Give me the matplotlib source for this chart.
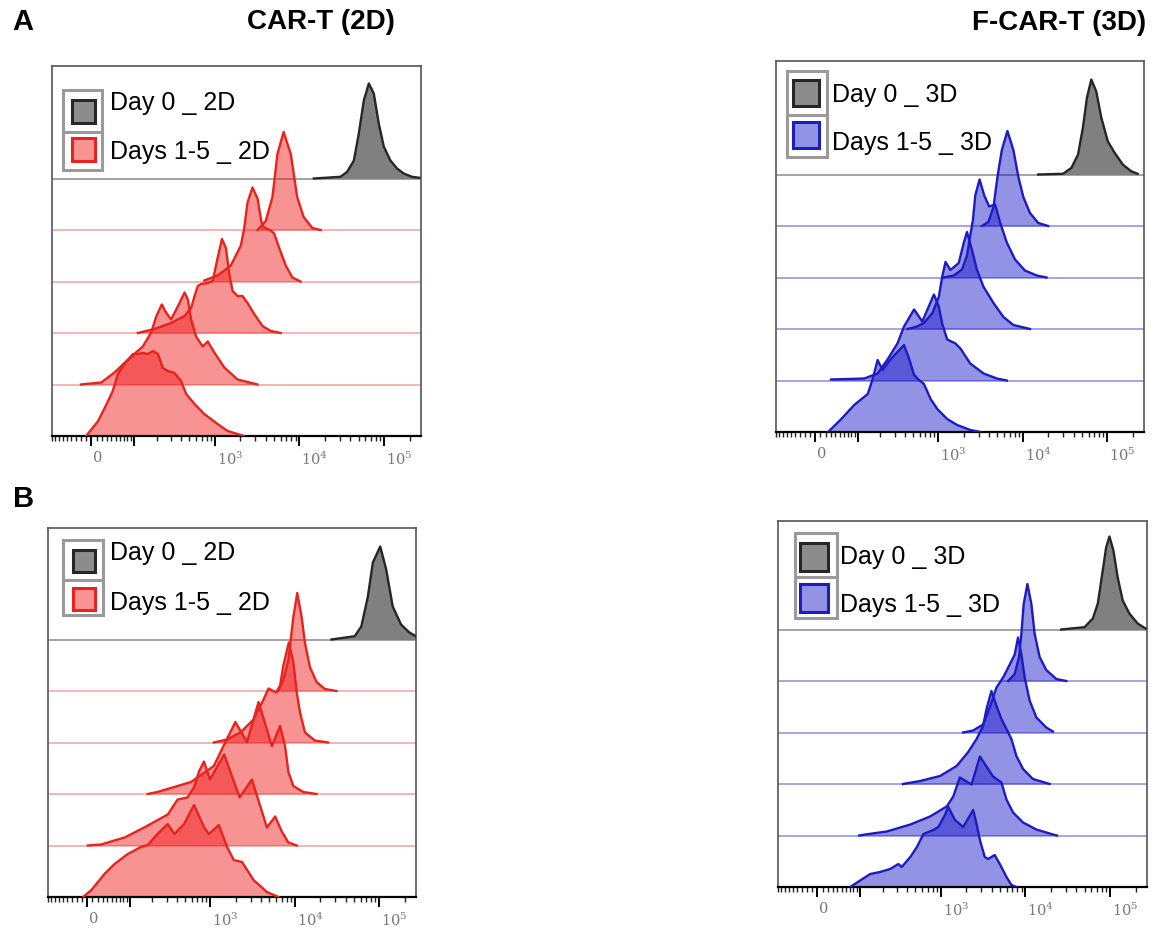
import numpy as np
import matplotlib
matplotlib.use("Agg")
import matplotlib.pyplot as plt
from matplotlib.patches import Rectangle
from matplotlib.transforms import ScaledTranslation

plt.rcParams["font.family"] = ["Liberation Sans", "DejaVu Sans"]
plt.rcParams["mathtext.fontset"] = "dejavuserif"

# histogram outlines: (fluorescence, height)
# tracks t1..t5 run from top to bottom under the Day 0 histogram
A2D_day0 = [(14800, 0), (30500, 1.7), (36600, 6.7), (43900, 18), (50200, 45), (57500, 78), (65900, 95),
            (75400, 85), (86300, 55), (98900, 32), (118400, 18), (141900, 10), (170000, 5), (212800, 1.7), (260000, 0.7)]
A2D_t1 = [(3200, 0), (4000, 9), (4800, 33), (5500, 76), (6500, 98), (7900, 76), (9400, 33), (11200, 13),
          (14200, 2), (17800, 0)]
A2D_t2 = [(750, 1), (1080, 6), (1550, 16), (2035, 36), (2225, 53), (2440, 79), (2790, 94), (3200, 83), (3570, 59),
          (3830, 54), (4590, 51), (5025, 48), (5740, 34), (6890, 16), (8260, 4), (10300, 0)]
A2D_t3 = [(114, 0), (188, 4), (301, 10), (438, 17), (524, 25), (586, 39), (630, 47), (689, 49), (826, 50), (945, 52),
          (1080, 75), (1217, 94), (1355, 85), (1484, 59), (1626, 42), (1862, 37), (2132, 37), (2440, 30), (2923, 19),
          (3665, 7), (4590, 2), (6000, 0)]
A2D_t4 = [(-20, 0), (19, 2), (47, 12), (82, 25), (133, 38), (171, 52), (198, 68), (232, 80), (262, 72), (301, 65),
          (363, 78), (438, 92), (480, 85), (524, 65), (600, 48), (721, 38), (826, 43), (988, 32), (1298, 17),
          (1862, 5), (3200, 0)]
A2D_t5 = [(-10, 0), (13, 15), (33, 35), (43, 45), (55, 62), (72, 72), (97, 82), (114, 82), (133, 83), (155, 82),
          (180, 85), (208, 82), (239, 68), (275, 65), (331, 63), (398, 55), (458, 42), (575, 32), (751, 22),
          (1080, 12), (1420, 5), (1862, 2), (2200, 0)]

A3D_day0 = [(15240, 0), (30000, 0.7), (37700, 6.7), (45100, 20), (51500, 47), (57500, 77), (64700, 95),
            (74100, 83), (84900, 57), (101600, 33), (121600, 22), (152400, 10), (191400, 3.3), (229000, 0.7)]
A3D_t1 = [(3290, 0), (3920, 4), (4500, 19), (5015, 49), (5650, 76), (6580, 95), (7740, 76), (8870, 49),
          (10150, 29), (12160, 13), (15240, 3), (19950, 0)]
A3D_t2 = [(1160, 0), (1520, 2), (1910, 8), (2185, 22), (2390, 42), (2575, 58), (2740, 82), (3080, 98), (3500, 82),
          (4000, 71), (4710, 73), (5390, 55), (6470, 35), (8100, 18), (10600, 7), (14600, 2), (19100, 0)]
A3D_t3 = [(430, 0), (540, 2), (675, 6), (850, 16), (1013, 32), (1110, 52), (1217, 67), (1393, 59), (1745, 66),
          (2000, 86), (2185, 97), (2505, 79), (2870, 59), (3440, 42), (4500, 26), (5900, 12), (7740, 4), (12160, 0)]
A3D_t4 = [(31, 1), (124, 2), (185, 7), (246, 21), (325, 37), (390, 54), (515, 71), (645, 59), (887, 86),
          (1013, 74), (1110, 57), (1274, 41), (1596, 37), (1827, 32), (2390, 17), (3440, 7), (4935, 2), (6470, 0)]
A3D_t5 = [(25, 0), (54, 13), (89, 27), (138, 38), (160, 53), (185, 72), (213, 62), (270, 73), (325, 80), (390, 87),
          (450, 73), (515, 57), (590, 52), (675, 48), (810, 33), (972, 23), (1274, 13), (1672, 7), (2390, 2), (3140, 0)]

B2D_day0 = [(27200, 0), (51200, 3.3), (61300, 13), (73300, 43), (84000, 77), (102600, 93), (120800, 70),
            (144200, 33), (181000, 15), (227000, 7), (270000, 3.3)]
B2D_t1 = [(6400, 0), (7330, 11), (8400, 31), (8950, 51), (9620, 74), (10700, 98), (12050, 74), (13200, 48),
          (15100, 24), (18100, 9), (22700, 2), (31100, 0)]
B2D_t2 = [(1100, 0), (1580, 3), (2270, 10), (3250, 23), (4270, 43), (4890, 54), (6020, 50), (6700, 57), (7330, 77),
          (8500, 100), (9620, 80), (10550, 50), (11540, 30), (13200, 10), (17300, 2), (24800, 0)]
B2D_t3 = [(175, 0), (232, 2), (590, 12), (1100, 28), (1510, 52), (1730, 62), (1980, 72), (2720, 52), (3725, 92),
          (5360, 48), (6700, 68), (7670, 48), (8400, 22), (9620, 8), (12600, 2), (18100, 0)]
B2D_t4 = [(1, 0), (27, 1), (84, 8), (158, 18), (310, 31), (408, 46), (535, 48), (640, 58), (734, 74), (840, 84),
          (988, 66), (1460, 91), (2225, 48), (3110, 66), (4680, 18), (5860, 29), (7010, 14), (8400, 3), (10550, 0)]
B2D_t5 = [(-8, 0), (8, 7), (34, 23), (57, 33), (94, 43), (143, 50), (175, 52), (232, 63), (310, 73), (372, 63),
          (488, 73), (640, 92), (840, 70), (962, 63), (1260, 72), (1580, 50), (1895, 37), (2380, 35), (3250, 17),
          (4680, 5), (6400, 0)]

B3D_day0 = [(26400, 0), (49800, 2.3), (62400, 11), (71500, 26), (81700, 59), (89600, 82), (98000, 93),
            (109200, 79), (122700, 52), (140600, 29), (168300, 16), (211000, 6), (262000, 1)]
B3D_t1 = [(6240, 0), (7470, 7), (8400, 24), (8950, 47), (9530, 77), (10550, 97), (11750, 77), (12850, 47),
          (14700, 24), (17600, 11), (23100, 2), (30300, 0)]
B3D_t2 = [(1840, 0), (2415, 2), (3160, 8), (3790, 25), (4550, 45), (5450, 55), (6530, 68), (7470, 78), (8170, 95),
          (8950, 78), (9800, 55), (11200, 32), (13460, 15), (17600, 5), (21100, 1)]
B3D_t3 = [(355, 0), (415, 1), (570, 3), (980, 8), (1540, 18), (2110, 32), (2650, 45), (3160, 58), (3470, 75),
          (3970, 93), (4550, 78), (5210, 65), (5970, 55), (6830, 45), (7820, 28), (9360, 15), (12270, 5), (19300, 0)]
B3D_t4 = [(98, 0), (119, 1), (226, 4), (435, 11), (746, 19), (1175, 29), (1405, 39), (1680, 58), (2310, 51),
          (2900, 79), (3470, 69), (4150, 59), (5210, 53), (5970, 36), (7140, 23), (9360, 13), (13460, 6),
          (21100, 1), (23500, 0)]
B3D_t5 = [(71, 0), (139, 13), (186, 15), (248, 18), (313, 23), (343, 20), (435, 30), (521, 40), (624, 53), (817, 57),
          (936, 60), (1121, 72), (1228, 80), (1472, 67), (1840, 60), (2415, 77), (2650, 63), (2900, 47), (3310, 30),
          (3620, 28), (4340, 32), (4980, 23), (5970, 10), (6830, 2), (7820, 0)]

tick_vals = [0, 1000, 10000, 100000]
tick_text = ["0", "$10^3$", "$10^4$", "$10^5$"]

W, H = 1154, 932
STEP = 51.5
XMIN, XMAX = -85, 272000

RED = dict(fill="#f01010", line="#e8231e", base="#f4a0a0")
BLUE = dict(fill="#1010c8", line="#1c1cc0", base="#8c8ce4")


def fwd(x):
    return np.arcsinh(np.asarray(x, dtype=float) / 70.0) / np.log(10)


def inv(u):
    return 70.0 * np.sinh(np.asarray(u, dtype=float) * np.log(10))


def draw_curve(ax, curve, offset, fill, line, alpha):
    xs = [p[0] for p in curve]
    ys = [offset + p[1] for p in curve]
    ax.fill_between(xs, offset, ys, color=fill, alpha=alpha, lw=0, zorder=2)
    ax.plot(xs, ys, color=line, lw=1.7, zorder=3, solid_joinstyle="round")


def panel(box, day0, tracks, col, leg, names):
    l, t, r, b = box
    ax = fig.add_axes([l / W, 1 - b / H, (r - l) / W, (b - t) / H])
    ax.set_xscale("function", functions=(fwd, inv))
    ax.set_xlim(XMIN, XMAX)
    ax.set_ylim(0, b - t)
    aw, ah = r - l, b - t

    ax.axhline(5 * STEP, color="#8a8a8a", lw=1.1, zorder=1)
    for k in range(1, 5):
        ax.axhline(k * STEP, color=col["base"], lw=1.1, zorder=1)
    draw_curve(ax, day0, 5 * STEP, "#808080", "#262626", 1.0)
    for k, tr in enumerate(tracks):
        draw_curve(ax, tr, (4 - k) * STEP, col["fill"], col["line"], 0.45)

    # axis styling
    for s in ax.spines.values():
        s.set_color("#555555")
        s.set_linewidth(1.2)
    ax.spines["bottom"].set_color("black")
    ax.spines["bottom"].set_linewidth(1.6)
    ax.set_yticks([])
    ax.set_xticks([0, 100, 1000, 10000, 100000])
    ax.set_xticklabels([])
    minor = [-v for v in range(10, 100, 10)] + [m * 10 ** e for e in (1, 2, 3, 4) for m in range(2, 10)] + [10, 200000]
    ax.set_xticks(minor, minor=True)
    ax.tick_params(axis="x", which="major", direction="out", length=7, width=1.4, color="black")
    ax.tick_params(axis="x", which="minor", direction="out", length=3.5, width=1.0, color="#222222")
    shift = ScaledTranslation(0.02, 0, fig.dpi_scale_trans)
    for v, s in zip(tick_vals, tick_text):
        ax.text(v, -15 / ah, s, transform=ax.get_xaxis_transform() + shift, ha="left", va="top",
                fontsize=10.5, color="#777777", family="DejaVu Serif")

    # FlowJo style legend
    cl, cr, ct, cb, dv, ix, isz, iy1, iy2, tx, ty1, ty2 = leg
    ax.add_patch(Rectangle((cl / aw, 1 - cb / ah), (cr - cl) / aw, (cb - ct) / ah, transform=ax.transAxes,
                           facecolor="white", edgecolor="#9a9a9a", lw=2.2, zorder=5))
    ax.plot([cl / aw, cr / aw], [1 - dv / ah, 1 - dv / ah], transform=ax.transAxes, color="#9a9a9a", lw=2.2, zorder=6)
    for iy, fc, ec, a in [(iy1, "#808080", "#262626", 0.9), (iy2, col["fill"], col["line"], 0.45)]:
        ax.add_patch(Rectangle((ix / aw, 1 - (iy + isz) / ah), isz / aw, isz / ah, transform=ax.transAxes,
                               facecolor=fc, alpha=a, edgecolor="none", zorder=6))
        ax.add_patch(Rectangle((ix / aw, 1 - (iy + isz) / ah), isz / aw, isz / ah, transform=ax.transAxes,
                               facecolor="none", edgecolor=ec, lw=2.2, zorder=7))
    ax.text(tx / aw, 1 - ty1 / ah, names[0], transform=ax.transAxes, fontsize=18, va="center", ha="left", zorder=8)
    ax.text(tx / aw, 1 - ty2 / ah, names[1], transform=ax.transAxes, fontsize=18, va="center", ha="left", zorder=8)
    return ax


fig = plt.figure(figsize=(W / 100, H / 100), dpi=100)

panel((52, 66, 421, 436), A2D_day0, [A2D_t1, A2D_t2, A2D_t3, A2D_t4, A2D_t5], RED,
      (11, 50, 24, 104, 66, 20, 23, 34, 72, 58, 37, 86), ["Day 0 _ 2D", "Days 1-5 _ 2D"])
panel((776, 61, 1144, 432), A3D_day0, [A3D_t1, A3D_t2, A3D_t3, A3D_t4, A3D_t5], BLUE,
      (11, 51, 10, 96, 54, 17, 26, 19, 61, 56, 34, 82), ["Day 0 _ 3D", "Days 1-5 _ 3D"])
panel((48, 528, 416, 897), B2D_day0, [B2D_t1, B2D_t2, B2D_t3, B2D_t4, B2D_t5], RED,
      (15, 55, 12, 87, 52, 25, 22, 22, 60, 62, 25, 75), ["Day 0 _ 2D", "Days 1-5 _ 2D"])
panel((778, 521, 1147, 887), B3D_day0, [B3D_t1, B3D_t2, B3D_t3, B3D_t4, B3D_t5], BLUE,
      (17, 59, 12, 97, 56, 22, 28, 22, 63, 62, 36, 84), ["Day 0 _ 3D", "Days 1-5 _ 3D"])

fig.text(23 / W, 1 - 22 / H, "A", fontsize=21, fontweight="bold", ha="center", va="center")
fig.text(24 / W, 1 - 499 / H, "B", fontsize=21, fontweight="bold", ha="center", va="center")
fig.text(321 / W, 1 - 22 / H, "CAR-T (2D)", fontsize=20, fontweight="bold", ha="center", va="center")
fig.text(1059 / W, 1 - 23 / H, "F-CAR-T (3D)", fontsize=20, fontweight="bold", ha="center", va="center")

fig.savefig("out.png", dpi=100)
